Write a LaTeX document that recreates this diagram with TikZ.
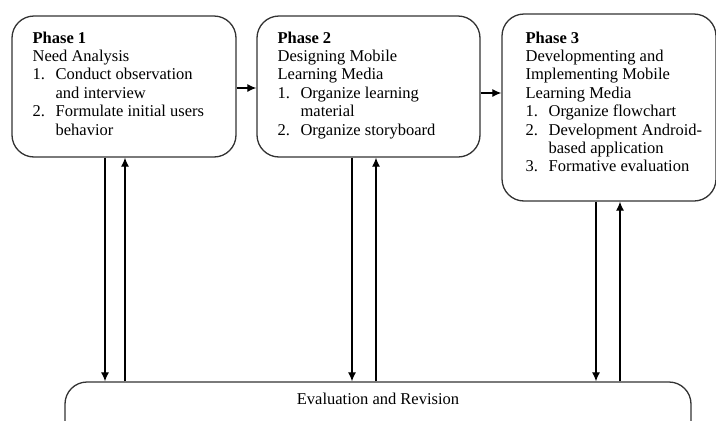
\documentclass[tikz,border=0pt]{standalone}
\usepackage{fontspec}
\setmainfont{Liberation Serif}
\usetikzlibrary{arrows.meta}

\newcommand{\itemno}[1]{\makebox[23pt][l]{#1}}
\newcommand{\itemgap}{\hspace*{23pt}}

\begin{document}
\begin{tikzpicture}[x=1pt,y=-1pt,->,>={Latex[length=9pt,width=8pt]},line width=1.2pt]
    \tikzstyle{phase}=[draw=black!80,shape=rectangle,rounded corners=22pt,line width=1.3pt];
    \tikzstyle{phasetext}=[anchor=north west,align=left,inner sep=0pt,font=\fontsize{16.5}{18.4}\selectfont];
    \useasboundingbox (0,0) rectangle (716,421);
    \clip (0,0) rectangle (716,421);

    \node[phase,minimum width=224pt,minimum height=141pt] at (124,86.5)   (p1) {};
    \node[phase,minimum width=223pt,minimum height=141pt] at (368.5,86.5) (p2) {};
    \node[phase,minimum width=214pt,minimum height=187pt] at (609,107.5)  (p3) {};
    \node[phase,minimum width=626pt,minimum height=78pt]  at (378,421)    (ev) {};

\node[phasetext] at (32,31) (t1) {\textbf{Phase 1}\\Need Analysis\\\itemno{1.}Conduct observation\\\itemgap and interview\\\itemno{2.}Formulate initial users\\\itemgap behavior};
\node[phasetext] at (277,31) (t2) {\textbf{Phase 2}\\Designing Mobile\\Learning Media\\\itemno{1.}Organize learning\\\itemgap material\\\itemno{2.}Organize storyboard};
\node[phasetext] at (525,31) (t3) {\textbf{Phase 3}\\Developmenting and\\Implementing Mobile\\Learning Media\\\itemno{1.}Organize flowchart\\\itemno{2.}Development Android-\\\itemgap based application\\\itemno{3.}Formative evaluation};
\node[inner sep=0pt,font=\fontsize{16.5}{18.4}\selectfont] at (378,399) (evt) {Evaluation and Revision};

    \draw ([yshift=-1.5pt]p1.east) to ([yshift=-1.5pt]p2.west);
    \draw ([yshift=-6.5pt]p2.east) to ([yshift=-6.5pt]p2.east -| p3.west);

    \draw ([xshift=-19pt]p1.south) to ([xshift=-19pt]p1.south |- ev.north);
    \draw ([xshift=1pt]p1.south |- ev.north) to ([xshift=1pt]p1.south);
    \draw ([xshift=-16.5pt]p2.south) to ([xshift=-16.5pt]p2.south |- ev.north);
    \draw ([xshift=7.5pt]p2.south |- ev.north) to ([xshift=7.5pt]p2.south);
    \draw ([xshift=-13pt]p3.south) to ([xshift=-13pt]p3.south |- ev.north);
    \draw ([xshift=11pt]p3.south |- ev.north) to ([xshift=11pt]p3.south);
\end{tikzpicture}
\end{document}
